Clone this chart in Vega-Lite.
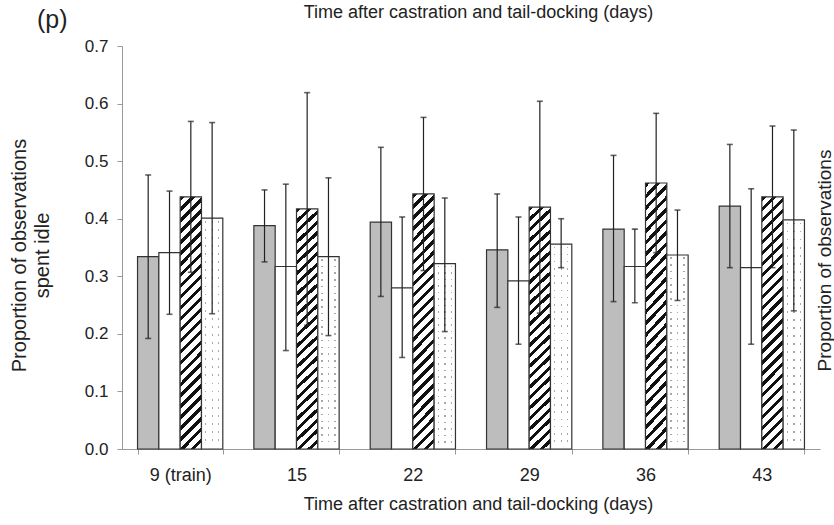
{
  "$schema": "https://vega.github.io/schema/vega-lite/v6.json",
  "width": 698,
  "height": 403,
  "autosize": {"type": "none"},
  "padding": {"left": 122, "top": 46, "right": 14, "bottom": 76},
  "background": "white",
  "title": {
    "text": "(p)",
    "anchor": "start",
    "frame": "group",
    "dx": -85,
    "dy": 30,
    "offset": 0,
    "fontSize": 25,
    "fontWeight": "normal",
    "font": "Liberation Sans",
    "color": "#222"
  },
  "config": {
    "view": {"stroke": null},
    "font": "Liberation Sans",
    "axis": {"labelFont": "Liberation Sans", "titleFont": "Liberation Sans", "labelColor": "#222", "titleColor": "#222", "titleFontWeight": "normal"}
  },
  "data": {
    "values": [
      {"day": "9 (train)", "group": "A", "mean": 0.334, "lo": 0.192, "hi": 0.476},
      {"day": "9 (train)", "group": "B", "mean": 0.341, "lo": 0.234, "hi": 0.448},
      {"day": "9 (train)", "group": "C", "mean": 0.438, "lo": 0.307, "hi": 0.569},
      {"day": "9 (train)", "group": "D", "mean": 0.401, "lo": 0.235, "hi": 0.567},
      {"day": "15", "group": "A", "mean": 0.388, "lo": 0.325, "hi": 0.450},
      {"day": "15", "group": "B", "mean": 0.317, "lo": 0.171, "hi": 0.460},
      {"day": "15", "group": "C", "mean": 0.417, "lo": 0.215, "hi": 0.619},
      {"day": "15", "group": "D", "mean": 0.334, "lo": 0.197, "hi": 0.471},
      {"day": "22", "group": "A", "mean": 0.394, "lo": 0.265, "hi": 0.524},
      {"day": "22", "group": "B", "mean": 0.280, "lo": 0.159, "hi": 0.403},
      {"day": "22", "group": "C", "mean": 0.443, "lo": 0.310, "hi": 0.576},
      {"day": "22", "group": "D", "mean": 0.322, "lo": 0.204, "hi": 0.436},
      {"day": "29", "group": "A", "mean": 0.346, "lo": 0.246, "hi": 0.443},
      {"day": "29", "group": "B", "mean": 0.292, "lo": 0.182, "hi": 0.403},
      {"day": "29", "group": "C", "mean": 0.420, "lo": 0.236, "hi": 0.604},
      {"day": "29", "group": "D", "mean": 0.356, "lo": 0.315, "hi": 0.400},
      {"day": "36", "group": "A", "mean": 0.382, "lo": 0.256, "hi": 0.510},
      {"day": "36", "group": "B", "mean": 0.317, "lo": 0.254, "hi": 0.382},
      {"day": "36", "group": "C", "mean": 0.462, "lo": 0.341, "hi": 0.583},
      {"day": "36", "group": "D", "mean": 0.337, "lo": 0.258, "hi": 0.415},
      {"day": "43", "group": "A", "mean": 0.422, "lo": 0.315, "hi": 0.529},
      {"day": "43", "group": "B", "mean": 0.315, "lo": 0.182, "hi": 0.452},
      {"day": "43", "group": "C", "mean": 0.438, "lo": 0.315, "hi": 0.561},
      {"day": "43", "group": "D", "mean": 0.398, "lo": 0.240, "hi": 0.554}
    ]
  },
  "layer": [
    {
      "transform": [{"filter": "datum.group == 'A' || datum.group == 'B'"}],
      "mark": {"type": "bar", "stroke": "#333", "strokeWidth": 1.2},
      "encoding": {
        "x": {
          "field": "day", "type": "nominal",
          "sort": ["9 (train)", "15", "22", "29", "36", "43"],
          "scale": {"paddingInner": 0.267, "paddingOuter": 0.1335},
          "axis": {
            "orient": "bottom",
            "labelAngle": 0,
            "labelFontSize": 18,
            "labelPadding": 12,
            "tickBand": "extent",
            "tickSize": 5,
            "tickColor": "#999",
            "domainColor": "#999",
            "title": "Time after castration and tail-docking (days)",
            "titleFontSize": 18,
            "titleX": 356,
            "titleY": 60,
            "titleBaseline": "alphabetic",
            "titleAlign": "center"
          }
        },
        "xOffset": {"field": "group", "type": "nominal", "scale": {"domain": ["A", "B", "C", "D"]}},
        "y": {
          "field": "mean", "type": "quantitative",
          "scale": {"domain": [0, 0.7], "nice": false},
          "axis": {
            "orient": "left",
            "values": [0, 0.1, 0.2, 0.3, 0.4, 0.5, 0.6, 0.7],
            "format": ".1f",
            "grid": false,
            "labelFontSize": 17,
            "labelPadding": 9,
            "tickSize": 5,
            "tickColor": "#999",
            "domainColor": "#999",
            "title": ["Proportion of observations", "spent idle"],
            "titleFontSize": 20,
            "titleLineHeight": 23,
            "titleAngle": 270,
            "titleX": -113,
            "titleY": 209,
            "titleBaseline": "top",
            "titleAlign": "center"
          }
        },
        "fill": {"condition": {"test": "datum.group == 'A'", "value": "#bdbdbd"}, "value": "#ffffff"}
      }
    },
    {
      "transform": [{"filter": "datum.group == 'C'"}],
      "mark": {
        "type": "bar", "stroke": "#333", "strokeWidth": 1.2,
        "fill": {
          "gradient": "linear", "x1": 0, "y1": 0, "x2": 0.0914, "y2": 1.077,
          "stops": [
            {"offset": 0, "color": "#111"}, {"offset": 0.016, "color": "#111"}, {"offset": 0.016, "color": "#fff"}, {"offset": 0.04, "color": "#fff"},
            {"offset": 0.04, "color": "#111"}, {"offset": 0.056, "color": "#111"}, {"offset": 0.056, "color": "#fff"}, {"offset": 0.08, "color": "#fff"},
            {"offset": 0.08, "color": "#111"}, {"offset": 0.096, "color": "#111"}, {"offset": 0.096, "color": "#fff"}, {"offset": 0.12, "color": "#fff"},
            {"offset": 0.12, "color": "#111"}, {"offset": 0.136, "color": "#111"}, {"offset": 0.136, "color": "#fff"}, {"offset": 0.16, "color": "#fff"},
            {"offset": 0.16, "color": "#111"}, {"offset": 0.176, "color": "#111"}, {"offset": 0.176, "color": "#fff"}, {"offset": 0.2, "color": "#fff"},
            {"offset": 0.2, "color": "#111"}, {"offset": 0.216, "color": "#111"}, {"offset": 0.216, "color": "#fff"}, {"offset": 0.24, "color": "#fff"},
            {"offset": 0.24, "color": "#111"}, {"offset": 0.256, "color": "#111"}, {"offset": 0.256, "color": "#fff"}, {"offset": 0.28, "color": "#fff"},
            {"offset": 0.28, "color": "#111"}, {"offset": 0.296, "color": "#111"}, {"offset": 0.296, "color": "#fff"}, {"offset": 0.32, "color": "#fff"},
            {"offset": 0.32, "color": "#111"}, {"offset": 0.336, "color": "#111"}, {"offset": 0.336, "color": "#fff"}, {"offset": 0.36, "color": "#fff"},
            {"offset": 0.36, "color": "#111"}, {"offset": 0.376, "color": "#111"}, {"offset": 0.376, "color": "#fff"}, {"offset": 0.4, "color": "#fff"},
            {"offset": 0.4, "color": "#111"}, {"offset": 0.416, "color": "#111"}, {"offset": 0.416, "color": "#fff"}, {"offset": 0.44, "color": "#fff"},
            {"offset": 0.44, "color": "#111"}, {"offset": 0.456, "color": "#111"}, {"offset": 0.456, "color": "#fff"}, {"offset": 0.48, "color": "#fff"},
            {"offset": 0.48, "color": "#111"}, {"offset": 0.496, "color": "#111"}, {"offset": 0.496, "color": "#fff"}, {"offset": 0.52, "color": "#fff"},
            {"offset": 0.52, "color": "#111"}, {"offset": 0.536, "color": "#111"}, {"offset": 0.536, "color": "#fff"}, {"offset": 0.56, "color": "#fff"},
            {"offset": 0.56, "color": "#111"}, {"offset": 0.576, "color": "#111"}, {"offset": 0.576, "color": "#fff"}, {"offset": 0.6, "color": "#fff"},
            {"offset": 0.6, "color": "#111"}, {"offset": 0.616, "color": "#111"}, {"offset": 0.616, "color": "#fff"}, {"offset": 0.64, "color": "#fff"},
            {"offset": 0.64, "color": "#111"}, {"offset": 0.656, "color": "#111"}, {"offset": 0.656, "color": "#fff"}, {"offset": 0.68, "color": "#fff"},
            {"offset": 0.68, "color": "#111"}, {"offset": 0.696, "color": "#111"}, {"offset": 0.696, "color": "#fff"}, {"offset": 0.72, "color": "#fff"},
            {"offset": 0.72, "color": "#111"}, {"offset": 0.736, "color": "#111"}, {"offset": 0.736, "color": "#fff"}, {"offset": 0.76, "color": "#fff"},
            {"offset": 0.76, "color": "#111"}, {"offset": 0.776, "color": "#111"}, {"offset": 0.776, "color": "#fff"}, {"offset": 0.8, "color": "#fff"},
            {"offset": 0.8, "color": "#111"}, {"offset": 0.816, "color": "#111"}, {"offset": 0.816, "color": "#fff"}, {"offset": 0.84, "color": "#fff"},
            {"offset": 0.84, "color": "#111"}, {"offset": 0.856, "color": "#111"}, {"offset": 0.856, "color": "#fff"}, {"offset": 0.88, "color": "#fff"},
            {"offset": 0.88, "color": "#111"}, {"offset": 0.896, "color": "#111"}, {"offset": 0.896, "color": "#fff"}, {"offset": 0.92, "color": "#fff"},
            {"offset": 0.92, "color": "#111"}, {"offset": 0.936, "color": "#111"}, {"offset": 0.936, "color": "#fff"}, {"offset": 0.96, "color": "#fff"},
            {"offset": 0.96, "color": "#111"}, {"offset": 0.976, "color": "#111"}, {"offset": 0.976, "color": "#fff"}, {"offset": 1, "color": "#fff"}
          ]
        }
      },
      "encoding": {
        "x": {"field": "day", "type": "nominal", "sort": ["9 (train)", "15", "22", "29", "36", "43"], "scale": {"paddingInner": 0.267, "paddingOuter": 0.1335}, "axis": null},
        "xOffset": {"field": "group", "type": "nominal", "scale": {"domain": ["A", "B", "C", "D"]}},
        "y": {"field": "mean", "type": "quantitative", "scale": {"domain": [0, 0.7], "nice": false}, "axis": null}
      }
    },
    {
      "transform": [{"filter": "datum.group == 'D'"}],
      "mark": {
        "type": "bar", "strokeWidth": 0,
        "fill": {
          "gradient": "linear", "x1": 0, "y1": 0, "x2": 1, "y2": 0,
          "stops": [
            {"offset": 0, "color": "#fff"}, {"offset": 0.16, "color": "#fff"}, {"offset": 0.16, "color": "#a8a8a8"}, {"offset": 0.23, "color": "#a8a8a8"},
            {"offset": 0.23, "color": "#fff"}, {"offset": 0.47, "color": "#fff"}, {"offset": 0.47, "color": "#a8a8a8"}, {"offset": 0.54, "color": "#a8a8a8"},
            {"offset": 0.54, "color": "#fff"}, {"offset": 0.77, "color": "#fff"}, {"offset": 0.77, "color": "#a8a8a8"}, {"offset": 0.84, "color": "#a8a8a8"},
            {"offset": 0.84, "color": "#fff"}, {"offset": 1, "color": "#fff"}
          ]
        }
      },
      "encoding": {
        "x": {"field": "day", "type": "nominal", "sort": ["9 (train)", "15", "22", "29", "36", "43"], "scale": {"paddingInner": 0.267, "paddingOuter": 0.1335}, "axis": null},
        "xOffset": {"field": "group", "type": "nominal", "scale": {"domain": ["A", "B", "C", "D"]}},
        "y": {"field": "mean", "type": "quantitative", "scale": {"domain": [0, 0.7], "nice": false}, "axis": null}
      }
    },
    {
      "transform": [{"filter": "datum.group == 'D'"}],
      "mark": {
        "type": "bar", "stroke": "#333", "strokeWidth": 1.2,
        "fill": {
          "gradient": "linear", "x1": 0, "y1": 0, "x2": 0, "y2": 1,
          "stops": [
            {"offset": 0, "color": "#fff"},
            {"offset": 0.012, "color": "#fff"}, {"offset": 0.012, "color": "rgba(255,255,255,0)"}, {"offset": 0.020, "color": "rgba(255,255,255,0)"}, {"offset": 0.020, "color": "#fff"},
            {"offset": 0.047, "color": "#fff"}, {"offset": 0.047, "color": "rgba(255,255,255,0)"}, {"offset": 0.055, "color": "rgba(255,255,255,0)"}, {"offset": 0.055, "color": "#fff"},
            {"offset": 0.082, "color": "#fff"}, {"offset": 0.082, "color": "rgba(255,255,255,0)"}, {"offset": 0.090, "color": "rgba(255,255,255,0)"}, {"offset": 0.090, "color": "#fff"},
            {"offset": 0.117, "color": "#fff"}, {"offset": 0.117, "color": "rgba(255,255,255,0)"}, {"offset": 0.125, "color": "rgba(255,255,255,0)"}, {"offset": 0.125, "color": "#fff"},
            {"offset": 0.152, "color": "#fff"}, {"offset": 0.152, "color": "rgba(255,255,255,0)"}, {"offset": 0.160, "color": "rgba(255,255,255,0)"}, {"offset": 0.160, "color": "#fff"},
            {"offset": 0.187, "color": "#fff"}, {"offset": 0.187, "color": "rgba(255,255,255,0)"}, {"offset": 0.195, "color": "rgba(255,255,255,0)"}, {"offset": 0.195, "color": "#fff"},
            {"offset": 0.222, "color": "#fff"}, {"offset": 0.222, "color": "rgba(255,255,255,0)"}, {"offset": 0.230, "color": "rgba(255,255,255,0)"}, {"offset": 0.230, "color": "#fff"},
            {"offset": 0.257, "color": "#fff"}, {"offset": 0.257, "color": "rgba(255,255,255,0)"}, {"offset": 0.265, "color": "rgba(255,255,255,0)"}, {"offset": 0.265, "color": "#fff"},
            {"offset": 0.292, "color": "#fff"}, {"offset": 0.292, "color": "rgba(255,255,255,0)"}, {"offset": 0.300, "color": "rgba(255,255,255,0)"}, {"offset": 0.300, "color": "#fff"},
            {"offset": 0.327, "color": "#fff"}, {"offset": 0.327, "color": "rgba(255,255,255,0)"}, {"offset": 0.335, "color": "rgba(255,255,255,0)"}, {"offset": 0.335, "color": "#fff"},
            {"offset": 0.362, "color": "#fff"}, {"offset": 0.362, "color": "rgba(255,255,255,0)"}, {"offset": 0.370, "color": "rgba(255,255,255,0)"}, {"offset": 0.370, "color": "#fff"},
            {"offset": 0.397, "color": "#fff"}, {"offset": 0.397, "color": "rgba(255,255,255,0)"}, {"offset": 0.405, "color": "rgba(255,255,255,0)"}, {"offset": 0.405, "color": "#fff"},
            {"offset": 0.432, "color": "#fff"}, {"offset": 0.432, "color": "rgba(255,255,255,0)"}, {"offset": 0.440, "color": "rgba(255,255,255,0)"}, {"offset": 0.440, "color": "#fff"},
            {"offset": 0.467, "color": "#fff"}, {"offset": 0.467, "color": "rgba(255,255,255,0)"}, {"offset": 0.475, "color": "rgba(255,255,255,0)"}, {"offset": 0.475, "color": "#fff"},
            {"offset": 0.502, "color": "#fff"}, {"offset": 0.502, "color": "rgba(255,255,255,0)"}, {"offset": 0.510, "color": "rgba(255,255,255,0)"}, {"offset": 0.510, "color": "#fff"},
            {"offset": 0.537, "color": "#fff"}, {"offset": 0.537, "color": "rgba(255,255,255,0)"}, {"offset": 0.545, "color": "rgba(255,255,255,0)"}, {"offset": 0.545, "color": "#fff"},
            {"offset": 0.572, "color": "#fff"}, {"offset": 0.572, "color": "rgba(255,255,255,0)"}, {"offset": 0.580, "color": "rgba(255,255,255,0)"}, {"offset": 0.580, "color": "#fff"},
            {"offset": 0.607, "color": "#fff"}, {"offset": 0.607, "color": "rgba(255,255,255,0)"}, {"offset": 0.615, "color": "rgba(255,255,255,0)"}, {"offset": 0.615, "color": "#fff"},
            {"offset": 0.642, "color": "#fff"}, {"offset": 0.642, "color": "rgba(255,255,255,0)"}, {"offset": 0.650, "color": "rgba(255,255,255,0)"}, {"offset": 0.650, "color": "#fff"},
            {"offset": 0.677, "color": "#fff"}, {"offset": 0.677, "color": "rgba(255,255,255,0)"}, {"offset": 0.685, "color": "rgba(255,255,255,0)"}, {"offset": 0.685, "color": "#fff"},
            {"offset": 0.712, "color": "#fff"}, {"offset": 0.712, "color": "rgba(255,255,255,0)"}, {"offset": 0.720, "color": "rgba(255,255,255,0)"}, {"offset": 0.720, "color": "#fff"},
            {"offset": 0.747, "color": "#fff"}, {"offset": 0.747, "color": "rgba(255,255,255,0)"}, {"offset": 0.755, "color": "rgba(255,255,255,0)"}, {"offset": 0.755, "color": "#fff"},
            {"offset": 0.782, "color": "#fff"}, {"offset": 0.782, "color": "rgba(255,255,255,0)"}, {"offset": 0.790, "color": "rgba(255,255,255,0)"}, {"offset": 0.790, "color": "#fff"},
            {"offset": 0.817, "color": "#fff"}, {"offset": 0.817, "color": "rgba(255,255,255,0)"}, {"offset": 0.825, "color": "rgba(255,255,255,0)"}, {"offset": 0.825, "color": "#fff"},
            {"offset": 0.852, "color": "#fff"}, {"offset": 0.852, "color": "rgba(255,255,255,0)"}, {"offset": 0.860, "color": "rgba(255,255,255,0)"}, {"offset": 0.860, "color": "#fff"},
            {"offset": 0.887, "color": "#fff"}, {"offset": 0.887, "color": "rgba(255,255,255,0)"}, {"offset": 0.895, "color": "rgba(255,255,255,0)"}, {"offset": 0.895, "color": "#fff"},
            {"offset": 0.922, "color": "#fff"}, {"offset": 0.922, "color": "rgba(255,255,255,0)"}, {"offset": 0.930, "color": "rgba(255,255,255,0)"}, {"offset": 0.930, "color": "#fff"},
            {"offset": 0.957, "color": "#fff"}, {"offset": 0.957, "color": "rgba(255,255,255,0)"}, {"offset": 0.965, "color": "rgba(255,255,255,0)"}, {"offset": 0.965, "color": "#fff"},
            {"offset": 1, "color": "#fff"}
          ]
        }
      },
      "encoding": {
        "x": {"field": "day", "type": "nominal", "sort": ["9 (train)", "15", "22", "29", "36", "43"], "scale": {"paddingInner": 0.267, "paddingOuter": 0.1335}, "axis": null},
        "xOffset": {"field": "group", "type": "nominal", "scale": {"domain": ["A", "B", "C", "D"]}},
        "y": {"field": "mean", "type": "quantitative", "scale": {"domain": [0, 0.7], "nice": false}, "axis": null}
      }
    },
    {
      "mark": {"type": "rule", "color": "#222", "strokeWidth": 1.2},
      "encoding": {
        "x": {
          "field": "day", "type": "nominal", "sort": ["9 (train)", "15", "22", "29", "36", "43"],
          "scale": {"paddingInner": 0.267, "paddingOuter": 0.1335},
          "axis": {
            "orient": "top",
            "labels": false,
            "ticks": false,
            "domain": false,
            "title": "Time after castration and tail-docking (days)",
            "titleFontSize": 18,
            "titleX": 356,
            "titleY": -29,
            "titleBaseline": "alphabetic",
            "titleAlign": "center"
          }
        },
        "xOffset": {"field": "group", "type": "nominal", "scale": {"domain": ["A", "B", "C", "D"]}},
        "y": {
          "field": "lo", "type": "quantitative",
          "scale": {"domain": [0, 0.7], "nice": false},
          "axis": {
            "orient": "right",
            "labels": false,
            "ticks": false,
            "domain": false,
            "grid": false,
            "title": "Proportion of observations",
            "titleFontSize": 19,
            "titleAngle": 270,
            "titleX": -5,
            "titleY": 214,
            "titleBaseline": "top",
            "titleAlign": "center"
          }
        },
        "y2": {"field": "hi"}
      }
    },
    {
      "mark": {"type": "tick", "orient": "horizontal", "color": "#222", "size": 6, "thickness": 1.6},
      "encoding": {
        "x": {"field": "day", "type": "nominal", "sort": ["9 (train)", "15", "22", "29", "36", "43"], "scale": {"paddingInner": 0.267, "paddingOuter": 0.1335}, "axis": null},
        "xOffset": {"field": "group", "type": "nominal", "scale": {"domain": ["A", "B", "C", "D"]}},
        "y": {"field": "lo", "type": "quantitative", "scale": {"domain": [0, 0.7], "nice": false}, "axis": null}
      }
    },
    {
      "mark": {"type": "tick", "orient": "horizontal", "color": "#222", "size": 6, "thickness": 1.6},
      "encoding": {
        "x": {"field": "day", "type": "nominal", "sort": ["9 (train)", "15", "22", "29", "36", "43"], "scale": {"paddingInner": 0.267, "paddingOuter": 0.1335}, "axis": null},
        "xOffset": {"field": "group", "type": "nominal", "scale": {"domain": ["A", "B", "C", "D"]}},
        "y": {"field": "hi", "type": "quantitative", "scale": {"domain": [0, 0.7], "nice": false}, "axis": null}
      }
    }
  ],
  "resolve": {"axis": {"x": "independent", "y": "independent"}}
}
